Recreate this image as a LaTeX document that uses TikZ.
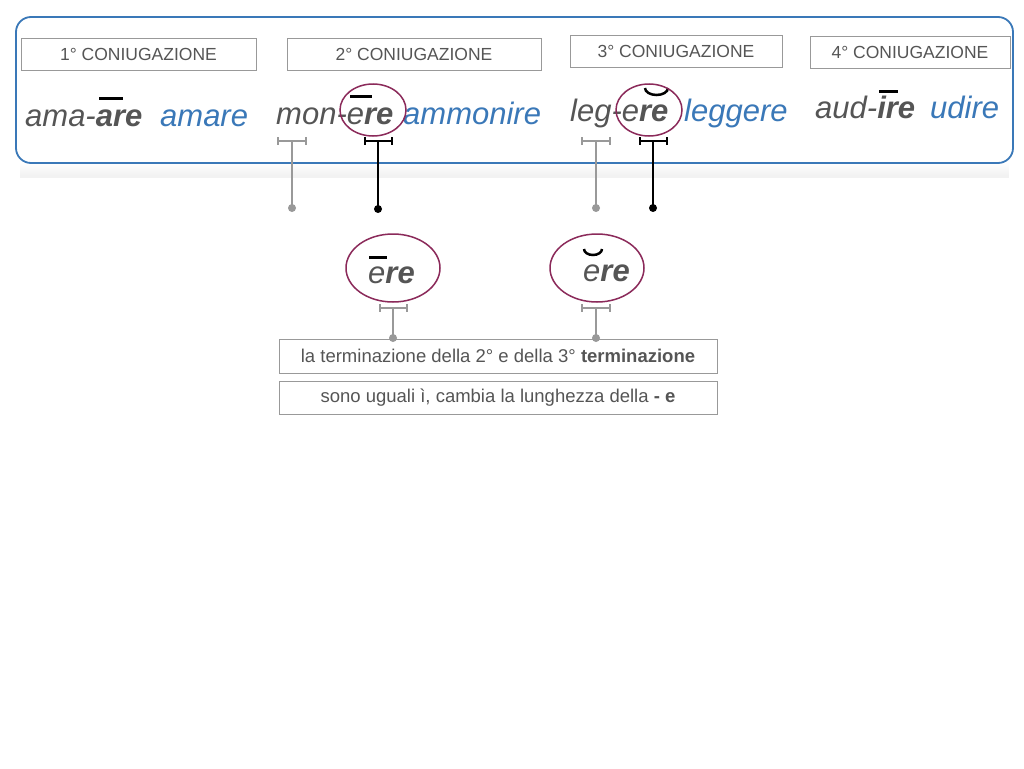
\documentclass[tikz,border=0pt]{standalone}
\usepackage{fontspec}
\usetikzlibrary{shapes.geometric}
\setmainfont{Liberation Sans}
\definecolor{tgray}{HTML}{555555}
\definecolor{tblue}{HTML}{3A78B8}
\definecolor{tpur}{HTML}{8B2A5A}
\definecolor{lgray}{HTML}{999999}
\begin{document}
\begin{tikzpicture}[x=1pt,y=-1pt,
  hdr/.style={draw=lgray,line width=0.8pt,minimum height=32pt,text=tgray,font=\fontsize{17.5}{19}\selectfont,inner sep=0pt},
  word/.style={anchor=base west,inner sep=0pt,font=\fontsize{31}{33}\selectfont\itshape,text=tgray},
  bword/.style={word,text=tblue},
  ring/.style={draw=tpur,line width=1.5pt,ellipse,inner sep=0pt},
  gbr/.style={draw=lgray,line width=1.5pt},
  kbr/.style={draw=black,line width=1.5pt},
  tbox/.style={draw=lgray,line width=0.8pt,text=tgray,font=\fontsize{18.5}{20}\selectfont,inner sep=0pt}]
\useasboundingbox (0,0) rectangle (1024,768);
\fill[white] (0,0) rectangle (1024,768);
% soft shadow
\foreach \i in {0,...,12}{\fill[black,opacity=0.005] (20,163+\i) rectangle (1009,178);}
\draw[tblue,line width=1.8pt,rounded corners=15pt,fill=white] (16,17) rectangle (1013,163);
\node[hdr,minimum width=235pt] (h1) at (138.5,54) {1° CONIUGAZIONE};
\node[hdr,minimum width=254pt] (h2) at (414,54) {2° CONIUGAZIONE};
\node[hdr,minimum width=212pt] (h3) at (676,51.5) {3° CONIUGAZIONE};
\node[hdr,minimum width=200pt] (h4) at (910,52) {4° CONIUGAZIONE};
% words
\node[word] (w1) at (25,126) {ama-\textbf{are}};
\draw[black,line width=3pt] (99,98) -- (123,98);
\node[bword] (b1) at (160,126) {amare};
\node[word] (w2) at (276,124) {mon-e\textbf{re}};
\draw[black,line width=3pt] (350,96) -- (372,96);
\node[bword] (b2) at (403,124) {ammonire};
\node[word] (w3) at (570,121) {leg-e\textbf{re}};
\draw[black,line width=2.5pt] (645,88) arc (180:0:11.5 and 7);
\node[bword] (b3) at (684,121) {leggere};
\node[word] (w4) at (815,118) {aud-\textbf{ire}};
\draw[black,line width=3pt] (879,91) -- (898,91);
\node[bword] (b4) at (930,118) {udire};
\node[ring,minimum width=66pt,minimum height=52pt] (r1) at (373,110) {};
\node[ring,minimum width=66pt,minimum height=52pt] (r2) at (649,110) {};
% brackets row 1
\coordinate (g1) at (292,141); \coordinate (g1e) at (292,208);
\draw[gbr] (278,137)--(278,145) (278,141)--(306,141) (306,137)--(306,145);
\draw[lgray,line width=1.3pt] (g1)--(g1e); \fill[lgray] (g1e) circle (4);
\coordinate (k1) at (378,141); \coordinate (k1e) at (378,209);
\draw[kbr] (365,137)--(365,145) (365,141)--(392,141) (392,137)--(392,145);
\draw[black,line width=1.3pt] (k1)--(k1e); \fill[black] (k1e) circle (4);
\coordinate (g2) at (596,141); \coordinate (g2e) at (596,208);
\draw[gbr] (582,137)--(582,145) (582,141)--(610,141) (610,137)--(610,145);
\draw[lgray,line width=1.3pt] (g2)--(g2e); \fill[lgray] (g2e) circle (4);
\coordinate (k2) at (653,141); \coordinate (k2e) at (653,208);
\draw[kbr] (640,137)--(640,145) (640,141)--(667,141) (667,137)--(667,145);
\draw[black,line width=1.3pt] (k2)--(k2e); \fill[black] (k2e) circle (4);
% circles
\node[ring,minimum width=94pt,minimum height=68pt] (c1) at (393,268) {};
\node[word] (t1) at (368,283) {e\textbf{re}};
\draw[black,line width=3pt] (369,257) -- (387,257);
\node[ring,minimum width=94pt,minimum height=68pt] (c2) at (597,268) {};
\node[word] (t2) at (583,281) {e\textbf{re}};
\draw[black,line width=2.5pt] (584,249) arc (180:0:9 and 6);
% brackets row 2
\node[tbox,minimum width=438pt,minimum height=34pt] (x1) at (498,356) {la terminazione della 2° e della 3° \textbf{terminazione}};
\node[tbox,minimum width=438pt,minimum height=33pt] (x2) at (498,397.5) {sono uguali ì, cambia la lunghezza della \textbf{- e}};
\coordinate (p1) at (393,308); \coordinate (p1e) at (393,338);
\draw[gbr] (380,304)--(380,312) (380,308)--(407,308) (407,304)--(407,312);
\draw[lgray,line width=1.3pt] (p1)--(p1e); \fill[lgray] (p1e) circle (4);
\coordinate (p2) at (596,308); \coordinate (p2e) at (596,338);
\draw[gbr] (582,304)--(582,312) (582,308)--(610,308) (610,304)--(610,312);
\draw[lgray,line width=1.3pt] (p2)--(p2e); \fill[lgray] (p2e) circle (4);
\end{tikzpicture}
\end{document}
